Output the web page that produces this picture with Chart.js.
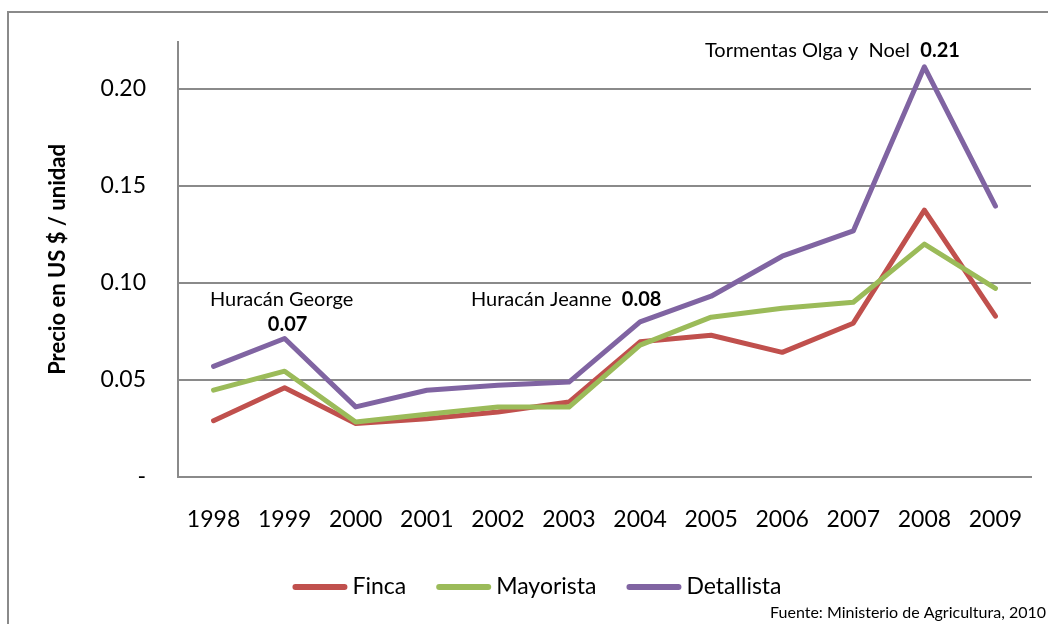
<!DOCTYPE html>
<html>
<head>
<meta charset="utf-8">
<script src="https://cdn.jsdelivr.net/npm/chart.js@4/dist/chart.umd.min.js"></script>
<style>
    html, body { margin: 0; padding: 0; background: #fff; }
    #wrap { width: 1048px; height: 624px; position: relative; }
</style>
</head>
<body>
<div id="wrap"><canvas id="priceChart"></canvas></div>
<script>
// === DATA ===
const years = ['1998', '1999', '2000', '2001', '2002', '2003', '2004', '2005', '2006', '2007', '2008', '2009'];
const finca = [0.029, 0.046, 0.0275, 0.030, 0.0335, 0.0386, 0.0696, 0.073, 0.0642, 0.0792, 0.1374, 0.0828];
const mayorista = [0.0447, 0.0545, 0.0283, 0.0323, 0.036, 0.036, 0.0679, 0.0823, 0.0869, 0.090, 0.1199, 0.0971];
const detallista = [0.057, 0.0713, 0.0361, 0.0447, 0.0472, 0.0489, 0.0799, 0.0931, 0.1137, 0.1267, 0.2112, 0.1395];
const seriesNames = ['Finca', 'Mayorista', 'Detallista'];
const yTicks = [0, 0.05, 0.10, 0.15, 0.20];

// annotation texts: [plain text, bold value]
const notes = [
    ['Huracán George', '0.07'],
    ['Huracán Jeanne  ', '0.08'],
    ['Tormentas Olga y  Noel  ', '0.21']
];
const sourceNote = 'Fuente: Ministerio de Agricultura, 2010';

const COLORS = {
    finca: '#C0504D',
    mayorista: '#9BBB59',
    detallista: '#8064A2',
    grid: '#8a8a8a'
};
const FONT = 'Lato, "Open Sans", sans-serif';

// outer frame
const framePlugin = {
    id: 'frame',
    beforeDraw(chart) {
        const ctx = chart.ctx;
        ctx.save();
        ctx.strokeStyle = COLORS.grid;
        ctx.lineWidth = 2;
        ctx.strokeRect(8, 12, 1100, 700);
        ctx.restore();
    }
};

// hurricane notes, legend and source
const notesPlugin = {
    id: 'notes',
    afterDraw(chart) {
        const ctx = chart.ctx;
        const x = chart.scales.x;
        ctx.save();
        ctx.fillStyle = '#000';
        ctx.textBaseline = 'middle';

        // Huracán George (two lines, around 1999)
        ctx.font = '20px ' + FONT;
        ctx.textAlign = 'center';
        ctx.fillText(notes[0][0], x.getPixelForValue(1) - 3, 300);
        ctx.font = 'bold 20px ' + FONT;
        ctx.fillText(notes[0][1], x.getPixelForValue(1) + 3, 325);

        // single line notes: plain + bold
        const single = [[notes[1], 471, 300], [notes[2], 705, 51]];
        ctx.textAlign = 'left';
        single.forEach(([n, sx, sy]) => {
            ctx.font = '20px ' + FONT;
            ctx.fillText(n[0], sx, sy);
            const w = ctx.measureText(n[0]).width;
            ctx.font = 'bold 20px ' + FONT;
            ctx.fillText(n[1], sx + w, sy);
        });

        // legend
        ctx.font = '23px ' + FONT;
        const lineLen = 55, gap = 5, itemGap = 30;
        const items = chart.data.datasets.map(ds => ({ label: ds.label, color: ds.borderColor, w: ctx.measureText(ds.label).width }));
        const total = items.reduce((s, it) => s + lineLen + gap + it.w, 0) + itemGap * (items.length - 1);
        let lx = 537 - total / 2;
        const ly = 587;
        items.forEach(it => {
            ctx.strokeStyle = it.color;
            ctx.lineWidth = 6;
            ctx.lineCap = 'round';
            ctx.beginPath();
            ctx.moveTo(lx + 3, ly);
            ctx.lineTo(lx + lineLen - 3, ly);
            ctx.stroke();
            lx += lineLen + gap;
            ctx.fillText(it.label, lx, ly);
            lx += it.w + itemGap;
        });

        // source
        ctx.font = '16px ' + FONT;
        ctx.textAlign = 'right';
        ctx.fillText(sourceNote, 1046, 613);
        ctx.restore();
    }
};

function lineDataset(label, data, color, order) {
    return {
        label: label,
        data: data,
        borderColor: color,
        backgroundColor: color,
        borderWidth: 5,
        pointRadius: 0,
        tension: 0,
        borderCapStyle: 'round',
        borderJoinStyle: 'round',
        order: order
    };
}

new Chart(document.getElementById('priceChart'), {
    type: 'line',
    data: {
        labels: years,
        datasets: [
            lineDataset(seriesNames[0], finca, COLORS.finca, 3),
            lineDataset(seriesNames[1], mayorista, COLORS.mayorista, 2),
            lineDataset(seriesNames[2], detallista, COLORS.detallista, 1)
        ]
    },
    options: {
        responsive: true,
        maintainAspectRatio: false,
        animation: false,
        layout: {
            padding: { top: 42, right: 17, left: 0, bottom: 0 }
        },
        plugins: {
            legend: { display: false },
            tooltip: { enabled: false }
        },
        scales: {
            x: {
                offset: true,
                grid: { display: false, drawTicks: false },
                border: { color: COLORS.grid, width: 2 },
                ticks: {
                    color: '#000',
                    font: { family: FONT, size: 23 },
                    padding: 29,
                    maxRotation: 0
                },
                afterFit(scale) {
                    scale.height = 147;
                    scale.paddingLeft = 0;
                    scale.paddingRight = 0;
                }
            },
            y: {
                min: 0,
                max: 0.224,
                afterBuildTicks(scale) {
                    scale.ticks = yTicks.map(v => ({ value: v }));
                },
                grid: { color: COLORS.grid, lineWidth: 2, drawTicks: false },
                border: { color: COLORS.grid, width: 2 },
                ticks: {
                    color: '#000',
                    font: { family: FONT, size: 23 },
                    padding: 32,
                    callback: v => v === 0 ? '-' : v.toFixed(2)
                },
                title: {
                    display: true,
                    text: 'Precio en US $ / unidad',
                    color: '#000',
                    font: { family: FONT, size: 22, weight: 'bold' },
                    padding: { top: 45, bottom: 0 }
                },
                afterFit(scale) {
                    scale.width = 178;
                    scale.paddingTop = 0;
                    scale.paddingBottom = 0;
                }
            }
        }
    },
    plugins: [framePlugin, notesPlugin]
});
</script>
</body>
</html>
